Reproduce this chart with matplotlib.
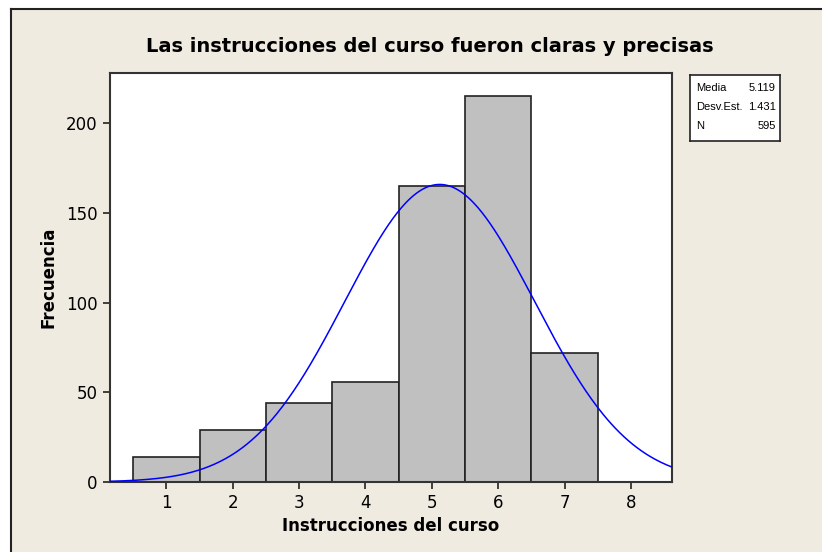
import numpy as np
import matplotlib
matplotlib.use('Agg')
import matplotlib.pyplot as plt
from matplotlib.patches import Rectangle
from matplotlib.lines import Line2D

categorias = [1, 2, 3, 4, 5, 6, 7]
frecuencias = [14, 29, 44, 56, 165, 215, 72]
xticks = [1, 2, 3, 4, 5, 6, 7, 8]
yticks = [0, 50, 100, 150, 200]

media = 5.119
desv = 1.431
n = 595

fig = plt.figure(figsize=(8.22, 5.52), dpi=100, facecolor='white')

# Minitab-style beige panel with dark frame on left/top
fig.patches.append(Rectangle((11 / 822, 0), 1, 1 - 9 / 552, transform=fig.transFigure,
                             facecolor='#efebe1', edgecolor='none', zorder=-2))
fig.lines.append(Line2D([11 / 822, 11 / 822], [0, 1 - 9 / 552], transform=fig.transFigure,
                        color='#222222', lw=1.5))
fig.lines.append(Line2D([11 / 822, 1], [1 - 9 / 552, 1 - 9 / 552], transform=fig.transFigure,
                        color='#222222', lw=1.5))

ax = fig.add_axes([110 / 822, 1 - 482 / 552, (672 - 110) / 822, (482 - 73) / 552])
ax.set_facecolor('white')

ax.bar(categorias, frecuencias, width=1.0, color='#c0c0c0', edgecolor='#222222',
       linewidth=1.2, zorder=2)

xs = np.linspace(0.15, 8.62, 400)
curva = n * 1.0 / (desv * np.sqrt(2 * np.pi)) * np.exp(-0.5 * ((xs - media) / desv) ** 2)
ax.plot(xs, curva, color='#0000ff', lw=1.1, zorder=3)

ax.set_xlim(0.15, 8.62)
ax.set_ylim(0, 228)
ax.set_xticks(xticks)
ax.set_yticks(yticks)
ax.tick_params(direction='out', length=5, width=1.2, color='#222222',
               labelsize=12, pad=4)
for s in ax.spines.values():
    s.set_color('#333333')
    s.set_linewidth(1.5)

ax.set_xlabel('Instrucciones del curso', fontsize=12, fontweight='bold', labelpad=3)
ax.set_ylabel('Frecuencia', fontsize=12, fontweight='bold', labelpad=6)
fig.text(430 / 822, 1 - 46 / 552,
         'Las instrucciones del curso fueron claras y precisas',
         ha='center', va='center', fontsize=14, fontweight='bold')

# stats box
box = fig.add_axes([690 / 822, 1 - 141 / 552, 90 / 822, 66 / 552])
box.set_xticks([])
box.set_yticks([])
box.set_facecolor('white')
for s in box.spines.values():
    s.set_color('#222222')
    s.set_linewidth(1.2)
etiquetas = ['Media', 'Desv.Est.', 'N']
valores = ['5.119', '1.431', '595']
for i, (e, v) in enumerate(zip(etiquetas, valores)):
    y = 0.8 - i * 0.29
    box.text(0.07, y, e, fontsize=8, family='Liberation Sans', va='center', ha='left',
             transform=box.transAxes)
    box.text(0.95, y, v, fontsize=8, family='Liberation Sans', va='center', ha='right',
             transform=box.transAxes)

fig.savefig('out.png', dpi=100, facecolor=fig.get_facecolor())
